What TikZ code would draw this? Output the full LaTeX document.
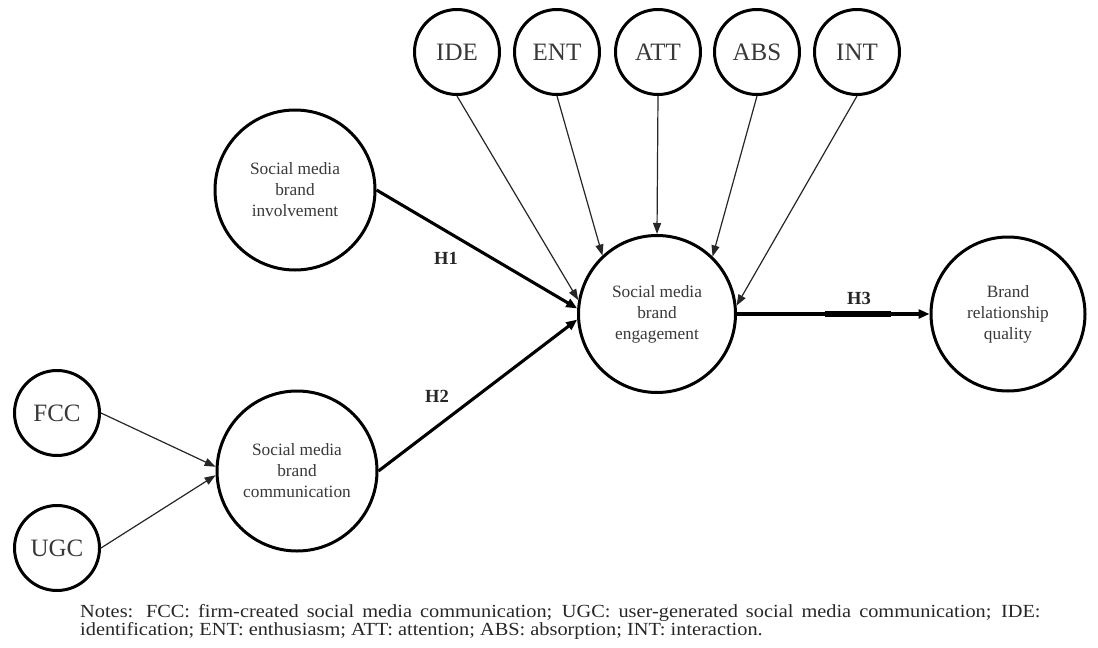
\documentclass[tikz,border=0pt]{standalone}
\usepackage{fontspec}
\setmainfont{Liberation Serif}
\usetikzlibrary{arrows.meta,calc}
\tikzset{
  latent/.style={circle, draw=black, line width=3pt, inner sep=0pt, align=center,
    text=black!78, font=\fontsize{17.3}{21}\selectfont},
  small/.style={latent, minimum size=85pt, font=\fontsize{25}{28}\selectfont},
  big/.style={latent, minimum size=157pt},
  thinarrow/.style={line width=1.2pt, draw=black!85, -{Triangle[length=11pt,width=8pt]}},
  thickarrow/.style={line width=3.1pt, -{Triangle[length=11pt,width=9pt]}},
  hlabel/.style={font=\bfseries\fontsize{18.5}{20}\selectfont, text=black!85, inner sep=1pt},
}
\begin{document}
\begin{tikzpicture}[x=1pt,y=-1pt]
\useasboundingbox (0,0) rectangle (1098,648);
% indicator circles
\node[small] (ide) at (457,52) {IDE};
\node[small] (ent) at (557,52) {ENT};
\node[small] (att) at (658,52) {ATT};
\node[small] (abs) at (757,52) {ABS};
\node[small] (int) at (857,52) {INT};
\node[small] (fcc) at (57,413) {FCC};
\node[small] (ugc) at (57,548) {UGC};
% constructs
\node[big, minimum size=160pt] (inv) at (295,190) {Social media\\brand\\involvement};
\node[big, minimum size=160pt] (comm) at (297,471) {Social media\\brand\\communication};
\node[big] (eng) at (657,314) {Social media\\brand\\engagement};
\node[big, minimum size=154pt] (brq) at (1008,314) {Brand\\relationship\\quality};
% thin arrows
\draw[thinarrow] (ide.south) -- (eng.170);
\draw[thinarrow] (ent.south) -- (eng.133);
\draw[thinarrow] (att.south) -- (eng.north);
\draw[thinarrow] (abs.south) -- (eng.46);
\draw[thinarrow] (int.south) -- (eng.6);
\draw[thinarrow] (fcc.east) -- (comm.177);
\draw[thinarrow] (ugc.east) -- (comm.183);
% hypotheses
\draw[thickarrow] (inv.east) -- (eng.176);
\draw[thickarrow] (comm.east) -- (eng.184);
\draw[thickarrow] (eng.east) -- (brq.west);
\draw[line width=5.5pt, yshift=-1.2pt] ($(eng.east)!0.455!(brq.west)$) -- ($(eng.east)!0.8!(brq.west)$);
\node[hlabel] (h1) at (446,258) {H1};
\node[hlabel] (h2) at (437,396) {H2};
\node[hlabel] (h3) at (859,298) {H3};
% notes
\node[anchor=base west, inner sep=0pt, text=black!85] (notes) at (80,617)
  {\scalebox{1.1}[1]{\parbox[t]{873pt}{\fontsize{18.5}{18}\selectfont
  Notes: FCC: firm-created social media communication; UGC: user-generated social media communication; IDE:\linebreak
  identification; ENT: enthusiasm; ATT: attention; ABS: absorption; INT: interaction.}}};
\end{tikzpicture}
\end{document}
